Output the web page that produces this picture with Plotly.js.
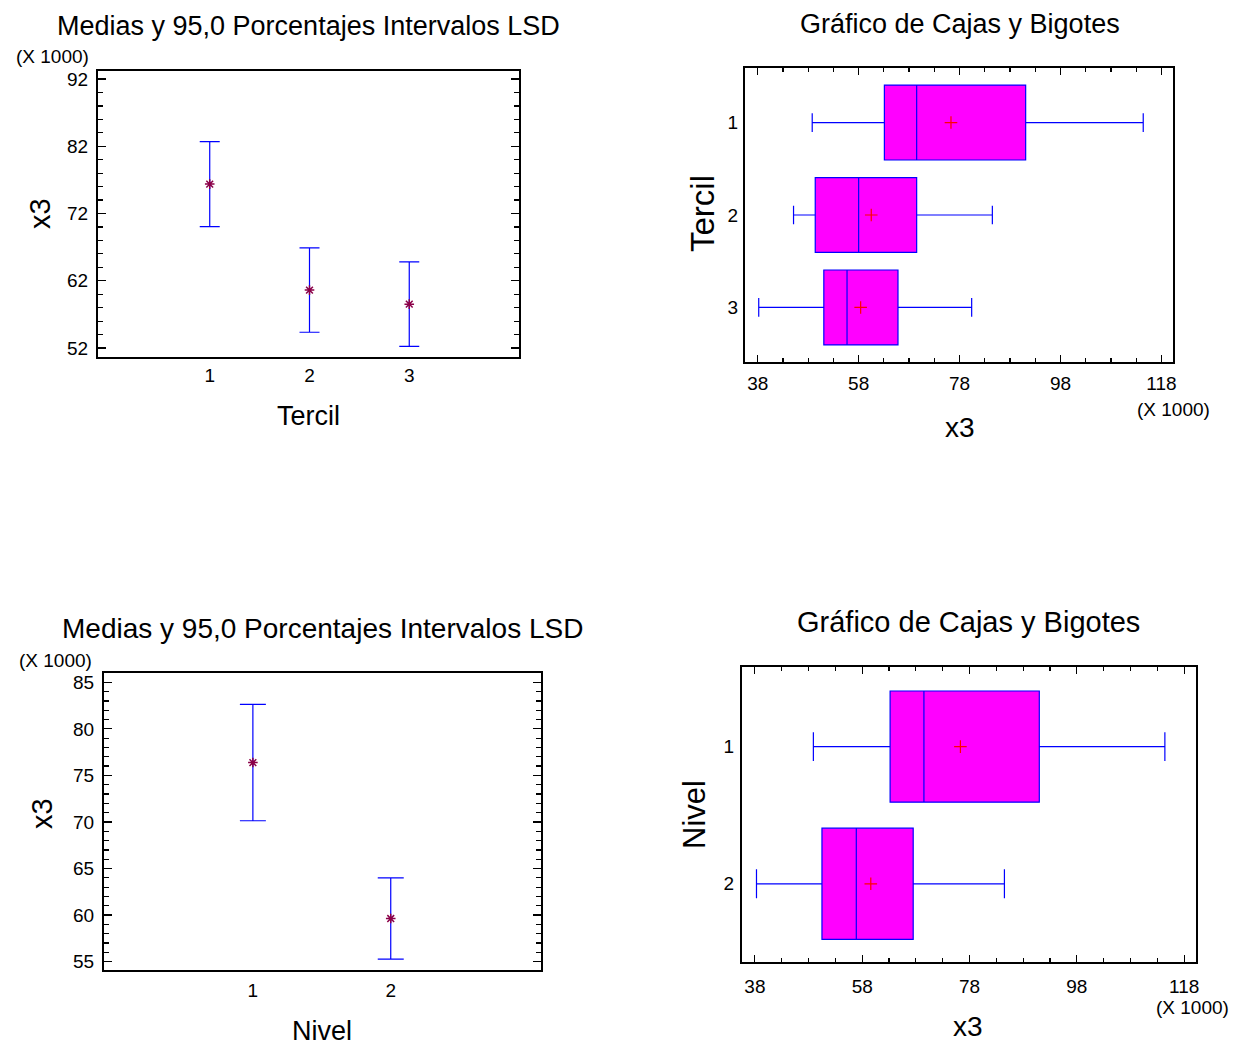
<!DOCTYPE html>
<html>
<head>
<meta charset="utf-8">
<script src="https://cdn.plot.ly/plotly-3.0.1.min.js"></script>
<style>html,body{margin:0;padding:0;background:#fff;}#chart{width:1249px;height:1050px;}</style>
</head>
<body>
<div id="chart"></div>
<script>
// ---- data (values in thousands, X 1000) ----
const tercilCats = ['1', '2', '3'];
const tercilMean = [76.38, 60.61, 58.52];
const tercilLower = [70.06, 54.34, 52.25];
const tercilUpper = [82.70, 66.88, 64.80];

const nivelCats = ['1', '2'];
const nivelMean = [76.38, 59.63];
const nivelLower = [70.13, 55.26];
const nivelUpper = [82.63, 64.00];

const tercilBoxMin = [48.8, 45.1, 38.2];
const tercilBoxQ1 = [63.1, 49.4, 51.1];
const tercilBoxMedian = [69.5, 58.0, 55.7];
const tercilBoxQ3 = [91.1, 69.5, 65.8];
const tercilBoxMax = [114.4, 84.5, 80.4];
const tercilBoxMean = [76.3, 60.5, 58.4];

const nivelBoxMin = [48.9, 38.3];
const nivelBoxQ1 = [63.2, 50.5];
const nivelBoxMedian = [69.5, 56.9];
const nivelBoxQ3 = [91.0, 67.5];
const nivelBoxMax = [114.4, 84.5];
const nivelBoxMean = [76.3, 59.6];

const xTickVals = [38, 58, 78, 98, 118];

// ---- helpers ----
const W = 1249, H = 1050;
const FONT = '"Liberation Sans", Arial, sans-serif';
function px(x) { return x / W; }
function py(y) { return 1 - y / H; }
function ann(text, x, y, size, angle) {
  return {text: text, x: px(x), y: py(y), xref: 'paper', yref: 'paper', showarrow: false,
          xanchor: 'center', yanchor: 'middle', textangle: angle || 0,
          font: {family: FONT, size: size, color: '#000'}};
}
const idx = (arr) => arr.map((_, i) => i + 1);

const errColor = '#0000ff';
const starColor = '#8b0048';

const traces = [
  {
    type: 'scatter', mode: 'markers', xaxis: 'x', yaxis: 'y',
    x: idx(tercilCats), y: tercilMean,
    marker: {symbol: 'asterisk-open', size: 8, color: starColor, line: {color: starColor, width: 1.5}},
    error_y: {type: 'data', symmetric: false,
      array: tercilUpper.map((u, i) => u - tercilMean[i]),
      arrayminus: tercilMean.map((m, i) => m - tercilLower[i]),
      color: errColor, thickness: 1.2, width: 10}
  },
  {
    type: 'box', orientation: 'h', xaxis: 'x2', yaxis: 'y2',
    y: tercilCats, q1: tercilBoxQ1, median: tercilBoxMedian, q3: tercilBoxQ3,
    lowerfence: tercilBoxMin, upperfence: tercilBoxMax,
    fillcolor: '#ff00ff', line: {color: '#0000ff', width: 1.2},
    width: 0.81, whiskerwidth: 0.25, boxpoints: false, hoverinfo: 'skip'
  },
  {
    type: 'scatter', mode: 'markers', xaxis: 'x2', yaxis: 'y2',
    x: tercilBoxMean, y: tercilCats,
    marker: {symbol: 'cross-thin-open', size: 9, color: '#ff0000', line: {color: '#ff0000', width: 1.2}}
  },
  {
    type: 'scatter', mode: 'markers', xaxis: 'x3', yaxis: 'y3',
    x: idx(nivelCats), y: nivelMean,
    marker: {symbol: 'asterisk-open', size: 8, color: starColor, line: {color: starColor, width: 1.5}},
    error_y: {type: 'data', symmetric: false,
      array: nivelUpper.map((u, i) => u - nivelMean[i]),
      arrayminus: nivelMean.map((m, i) => m - nivelLower[i]),
      color: errColor, thickness: 1.2, width: 13}
  },
  {
    type: 'box', orientation: 'h', xaxis: 'x4', yaxis: 'y4',
    y: nivelCats, q1: nivelBoxQ1, median: nivelBoxMedian, q3: nivelBoxQ3,
    lowerfence: nivelBoxMin, upperfence: nivelBoxMax,
    fillcolor: '#ff00ff', line: {color: '#0000ff', width: 1.2},
    width: 0.81, whiskerwidth: 0.26, boxpoints: false, hoverinfo: 'skip'
  },
  {
    type: 'scatter', mode: 'markers', xaxis: 'x4', yaxis: 'y4',
    x: nivelBoxMean, y: nivelCats,
    marker: {symbol: 'cross-thin-open', size: 9, color: '#ff0000', line: {color: '#ff0000', width: 1.2}}
  }
];

const tickFont = {family: FONT, size: 19, color: '#000'};
const frame = {showline: true, linecolor: '#000', linewidth: 2, mirror: true,
               showgrid: false, zeroline: false, fixedrange: true};

const layout = {
  width: W, height: H,
  margin: {l: 0, r: 0, t: 0, b: 0},
  paper_bgcolor: '#fff', plot_bgcolor: '#fff',
  showlegend: false,
  font: {family: FONT, color: '#000'},
  xaxis: Object.assign({}, frame, {
    domain: [px(98), px(519)], anchor: 'y', range: [-0.12, 4.1],
    tickmode: 'array', tickvals: idx(tercilCats), ticktext: tercilCats,
    ticks: '', tickfont: tickFont, ticklabelstandoff: 0
  }),
  yaxis: Object.assign({}, frame, {
    domain: [py(357), py(71)], anchor: 'x', range: [50.66, 93.2],
    tickmode: 'linear', tick0: 52, dtick: 10, ticks: 'inside', ticklen: 8, tickwidth: 1.2,
    tickcolor: '#000', mirror: 'ticks', tickfont: tickFont, ticklabelstandoff: 4,
    minor: {tick0: 52, dtick: 2, ticks: 'inside', ticklen: 5, tickwidth: 1.2, tickcolor: '#000'}
  }),
  xaxis2: Object.assign({}, frame, {
    domain: [px(745), px(1173)], anchor: 'y2', range: [35.48, 120.3],
    tickmode: 'array', tickvals: xTickVals, ticks: 'inside', ticklen: 7, tickwidth: 1.2,
    tickcolor: '#000', mirror: 'ticks', tickfont: tickFont, ticklabelstandoff: 3,
    minor: {tick0: 38, dtick: 5, ticks: 'inside', ticklen: 4, tickwidth: 1.2, tickcolor: '#000'}
  }),
  yaxis2: Object.assign({}, frame, {
    domain: [py(362), py(68)], anchor: 'x2', type: 'category', range: [2.59, -0.59],
    ticks: '', tickfont: tickFont, ticklabelstandoff: 1
  }),
  xaxis3: Object.assign({}, frame, {
    domain: [px(104), px(541)], anchor: 'y3', range: [-0.08, 3.09],
    tickmode: 'array', tickvals: idx(nivelCats), ticktext: nivelCats,
    ticks: '', tickfont: tickFont, ticklabelstandoff: 2
  }),
  yaxis3: Object.assign({}, frame, {
    domain: [py(970), py(673)], anchor: 'x3', range: [54.1, 86.0],
    tickmode: 'linear', tick0: 55, dtick: 5, ticks: 'inside', ticklen: 8, tickwidth: 1.2,
    tickcolor: '#000', mirror: 'ticks', tickfont: tickFont, ticklabelstandoff: 4,
    minor: {tick0: 55, dtick: 1, ticks: 'inside', ticklen: 5, tickwidth: 1.2, tickcolor: '#000'}
  }),
  xaxis4: Object.assign({}, frame, {
    domain: [px(742), px(1196)], anchor: 'y4', range: [35.6, 120.2],
    tickmode: 'array', tickvals: xTickVals, ticks: 'inside', ticklen: 7, tickwidth: 1.2,
    tickcolor: '#000', mirror: 'ticks', tickfont: tickFont, ticklabelstandoff: 6,
    minor: {tick0: 38, dtick: 5, ticks: 'inside', ticklen: 4, tickwidth: 1.2, tickcolor: '#000'}
  }),
  yaxis4: Object.assign({}, frame, {
    domain: [py(962), py(667)], anchor: 'x4', type: 'category', range: [1.57, -0.58],
    ticks: '', tickfont: tickFont, ticklabelstandoff: 2
  }),
  annotations: [
    ann('Medias y 95,0 Porcentajes Intervalos LSD', 308, 26, 27),
    ann('(X 1000)', 52, 57, 19),
    ann('x3', 40, 214, 29, -90),
    ann('Tercil', 308, 416, 27),

    ann('Gráfico de Cajas y Bigotes', 960, 24, 27),
    ann('Tercil', 703, 214, 33, -90),
    ann('(X 1000)', 1173, 409, 19),
    ann('x3', 960, 427, 28),

    ann('Medias y 95,0 Porcentajes Intervalos LSD', 322, 628, 28),
    ann('(X 1000)', 56, 660, 19),
    ann('x3', 42, 814, 29, -90),
    ann('Nivel', 322, 1031, 27),

    ann('Gráfico de Cajas y Bigotes', 968, 622, 29),
    ann('Nivel', 694, 815, 31, -90),
    ann('(X 1000)', 1192, 1007, 19),
    ann('x3', 968, 1026, 28)
  ]
};

Plotly.newPlot('chart', traces, layout, {staticPlot: true, displayModeBar: false});
</script>
</body>
</html>
